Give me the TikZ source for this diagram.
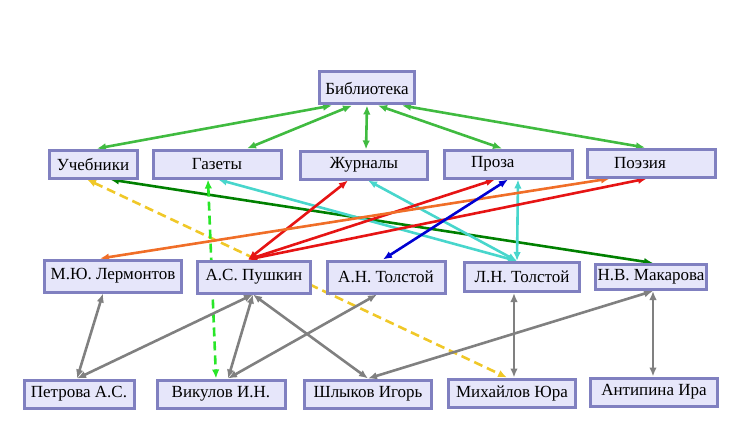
\documentclass[tikz,border=0pt]{standalone}
\usepackage{fontspec}
\setmainfont{Liberation Serif}
\usetikzlibrary{arrows.meta,backgrounds}

\definecolor{boite}{RGB}{230,230,250}
\definecolor{bord}{RGB}{128,128,192}
\definecolor{vert}{RGB}{64,187,64}
\definecolor{vertfonce}{RGB}{0,128,0}
\definecolor{vertclair}{RGB}{40,230,40}
\definecolor{jaune}{RGB}{240,200,40}
\definecolor{turquoise}{RGB}{72,214,204}
\definecolor{rouge}{RGB}{230,20,20}
\definecolor{orange}{RGB}{240,110,40}
\definecolor{bleu}{RGB}{0,0,210}
\definecolor{gris}{RGB}{128,128,128}

\begin{document}
\begin{tikzpicture}[x=1pt, y=-1pt,
    bloc/.style={draw=bord, fill=boite, line width=3pt, inner sep=2pt,
        minimum height=28pt, font=\fontsize{17}{20}\selectfont},
    gauche/.style={text width=74pt, inner xsep=27pt, align=left},
    lien/.style={line width=2.6pt, {Latex[length=9pt,width=7.5pt]}-{Latex[length=9pt,width=7.5pt]}},
    tirets/.style={lien, dash pattern=on 9pt off 5pt}]

    \useasboundingbox (0,0) rectangle (749,433);

    % Niveau 1
    \node[bloc, minimum width=95pt, minimum height=32pt] (bib) at (367,88) {Библиотека};

    % Niveau 2
    \node[bloc, minimum width=88pt] (ucheb) at (93,164) {Учебники};
    \node[bloc, minimum width=128pt] (gaz) at (217,164) {Газеты};
    \node[bloc, minimum width=127pt] (jur) at (364,165) {Журналы};
    \node[bloc, gauche] (proza) at (508,164) {Проза};
    \node[bloc, gauche] (poez) at (651,163) {Поэзия};

    % Niveau 3
    \node[bloc, minimum width=137pt, minimum height=32pt] (lerm) at (113,276) {М.Ю. Лермонтов};
    \node[bloc, minimum width=113pt, minimum height=32pt] (push) at (254,277) {А.С. Пушкин};
    \node[bloc, minimum width=118pt, minimum height=32pt] (ant) at (386,277) {А.Н. Толстой};
    \node[bloc, minimum width=115pt, minimum height=29pt] (lnt) at (522,277) {Л.Н. Толстой};
    \node[bloc, minimum width=111pt, minimum height=25pt] (mak) at (651,277) {Н.В. Макарова};

    % Niveau 4
    \node[bloc, minimum width=110pt] (petr) at (79,394) {Петрова А.С.};
    \node[bloc, minimum width=128pt] (vik) at (221,394) {Викулов И.Н.};
    \node[bloc, minimum width=127pt] (shl) at (368,394) {Шлыков Игорь};
    \node[bloc, minimum width=127pt] (mih) at (512,393) {Михайлов Юра};
    \node[bloc, minimum width=127pt] (antip) at (654,392) {Антипина Ира};

    \begin{scope}[on background layer]
    % Bibliothèque -> rubriques
    \draw[lien, vert] ([xshift=-35pt]bib.south) -- ([xshift=4pt]ucheb.north);
    \draw[lien, vert] ([xshift=-15pt]bib.south) -- ([xshift=30pt]gaz.north);
    \draw[lien, vert] ([xshift=0pt]bib.south) -- ([xshift=2pt]jur.north);
    \draw[lien, vert] ([xshift=11pt]bib.south) -- ([xshift=-6pt]proza.north);
    \draw[lien, vert] ([xshift=35pt]bib.south) -- ([xshift=-6pt]poez.north);

    % Rubriques -> auteurs
    \draw[lien, vertfonce] ([xshift=17pt]ucheb.south) -- ([xshift=2pt]mak.north);
    \draw[tirets, jaune] ([xshift=-6pt]ucheb.south) -- ([xshift=-5pt]mih.north);
    \draw[tirets, vertclair] ([xshift=-9pt]gaz.south) -- ([xshift=-5pt]vik.north);
    \draw[lien, turquoise] ([xshift=1pt]gaz.south) -- ([xshift=-5pt]lnt.north);
    \draw[lien, turquoise] ([xshift=4pt]jur.south) -- ([xshift=-5pt]lnt.north);
    \draw[lien, turquoise] ([xshift=10pt]proza.south) -- ([xshift=-5pt]lnt.north);
    \draw[lien, rouge] ([xshift=-6pt]push.north) -- ([xshift=-16pt]jur.south);
    \draw[lien, rouge] ([xshift=-6pt]push.north) -- ([xshift=-13pt]proza.south);
    \draw[lien, rouge] ([xshift=-6pt]push.north) -- ([xshift=-4pt]poez.south);
    \draw[lien, orange] ([xshift=-13pt]lerm.north) -- ([xshift=-41pt]poez.south);
    \draw[lien, bleu] ([xshift=-3pt]ant.north) -- ([xshift=0pt]proza.south);

    % Auteurs -> lecteurs
    \draw[lien, gris] ([xshift=-10pt]lerm.south) -- ([xshift=-2pt]petr.north);
    \draw[lien, gris] ([xshift=-1pt]push.south) -- ([xshift=-2pt]petr.north);
    \draw[lien, gris] ([xshift=-1pt]push.south) -- ([xshift=7pt]vik.north);
    \draw[lien, gris] ([xshift=-1pt]push.south) -- ([xshift=0pt]shl.north);
    \draw[lien, gris] ([xshift=-9pt]ant.south) -- ([xshift=7pt]vik.north);
    \draw[lien, gris] ([xshift=2pt]mak.south) -- ([xshift=0pt]shl.north);
    \draw[lien, gris] ([xshift=-8pt]lnt.south) -- ([xshift=2pt]mih.north);
    \draw[lien, gris] ([xshift=2pt]mak.south) -- ([xshift=-1pt]antip.north);
    \end{scope}

\end{tikzpicture}
\end{document}
